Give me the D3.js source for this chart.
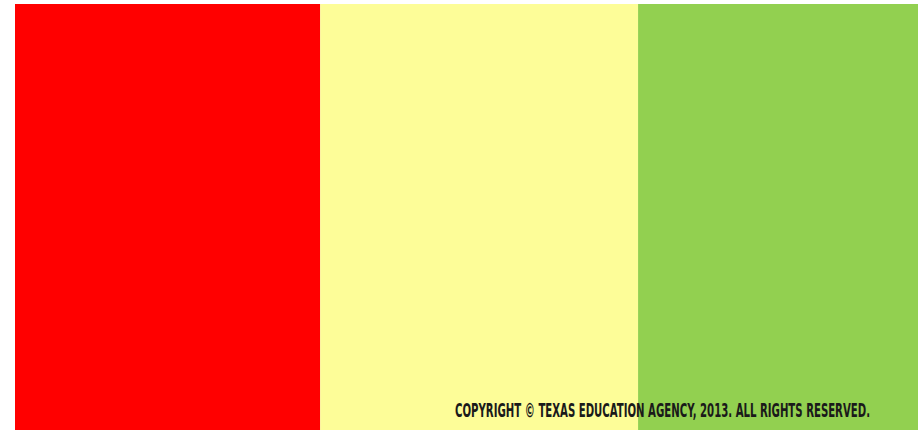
<!DOCTYPE html>
<html>
<head>
<meta charset="utf-8">
<script src="https://cdn.jsdelivr.net/npm/d3@7"></script>
<style>
  html, body { margin: 0; padding: 0; background: #fff; }
  svg { display: block; }
</style>
</head>
<body>
<svg id="chart" width="920" height="430"></svg>
<script>
// band shares (percent of the strip)
const bands = ["low", "middle", "high"];
const shares = [33.8, 35.2, 31.0];
const colors = ["#ff0000", "#fdfd98", "#92d050"];
const note = "COPYRIGHT \u00A9 TEXAS EDUCATION AGENCY, 2013. ALL RIGHTS RESERVED.";

const svg = d3.select("#chart");
const width = 920, height = 430;
const margin = { top: 4, right: 2, bottom: 0, left: 15 };

let x = d3.scaleLinear()
  .domain([0, d3.sum(shares)])
  .range([margin.left, width - margin.right]);

let color = d3.scaleOrdinal(bands, colors);

let acc = 0;
let segs = bands.map((b, i) => {
  const s = { name: b, x0: acc, x1: acc + shares[i] };
  acc += shares[i];
  return s;
});

svg.selectAll("rect.band")
  .data(segs)
  .enter()
  .append("rect")
  .attr("class", "band")
  .attr("x", d => x(d.x0))
  .attr("y", margin.top)
  .attr("width", d => x(d.x1) - x(d.x0))
  .attr("height", height - margin.top - margin.bottom)
  .attr("fill", d => color(d.name));

svg.append("text")
  .attr("x", 455)
  .attr("y", 417)
  .attr("textLength", 415)
  .attr("lengthAdjust", "spacingAndGlyphs")
  .style("font-family", "'Liberation Sans Narrow', 'DejaVu Sans Condensed', sans-serif")
  .style("font-size", "19px")
  .style("font-weight", "bold")
  .style("fill", "#1a1a1a")
  .text(note);
</script>
</body>
</html>
